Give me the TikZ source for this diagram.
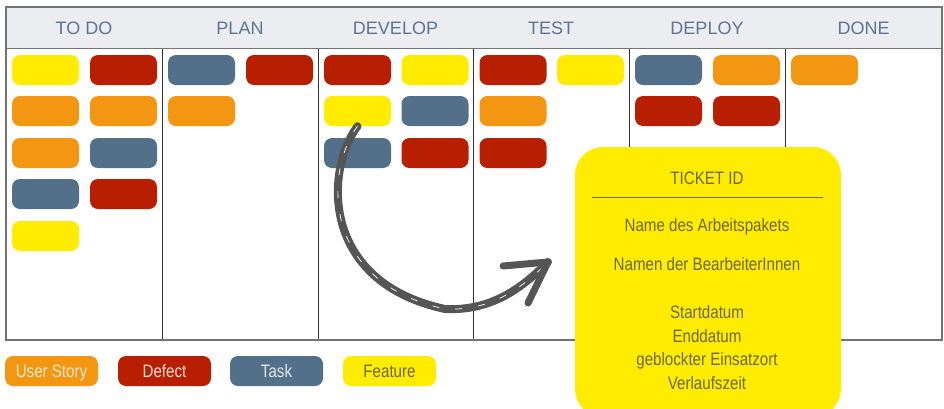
\documentclass[tikz,border=0pt]{standalone}
\usepackage{fontspec}
\setmainfont{Liberation Sans}
\newfontfamily\narrowfont[FakeStretch=0.84]{Liberation Sans}
\usetikzlibrary{positioning}
\definecolor{story}{HTML}{F39612}
\definecolor{defect}{HTML}{B81E00}
\definecolor{task}{HTML}{527089}
\definecolor{feature}{HTML}{FFEC00}
\definecolor{headbg}{HTML}{ECEDF1}
\definecolor{headtext}{HTML}{5B7592}
\definecolor{tickettext}{HTML}{6B6840}
\definecolor{arrowgray}{HTML}{555555}
\tikzset{
  card/.style={rounded corners=8pt, minimum width=67pt, minimum height=30pt, inner sep=0pt},
  legend/.style={card, minimum width=93pt, text height=13pt, text depth=0pt, font=\narrowfont\fontsize{18}{20}\selectfont},
  colhead/.style={font=\fontsize{18}{20}\selectfont, text=headtext},
  tickettxt/.style={font=\narrowfont\fontsize{18}{23.7}\selectfont, text=tickettext, align=center, inner sep=0pt},
}

\begin{document}
\begin{tikzpicture}[x=1pt, y=-1pt]
        \useasboundingbox (0,0) rectangle (944,408);
        \clip (0,0) rectangle (944,408);
        % board
        \fill[headbg] (6,7) rectangle (942,48);
        \foreach \x in {162,318,473,629,785}
            \draw[black!80, line width=1pt] (\x,48) -- (\x,340);
        \draw[black!55, line width=1.5pt] (6,7) rectangle (942,340);
        \draw[black!55, line width=1pt] (6,48) -- (942,48);
        \foreach \t/\x/\n in {TO DO/84/todo, PLAN/240/plan, DEVELOP/395.5/develop, TEST/551/test, DEPLOY/707/deploy, DONE/863.5/done}
            \node[colhead] (\n) at (\x,28) {\t};
        % cards
        \foreach \c/\x/\y/\n in {feature/45.5/70/t11, defect/123.5/70/t12, story/45.5/111/t21, story/123.5/111/t22,
                story/45.5/153/t31, task/123.5/153/t32, task/45.5/194/t41, defect/123.5/194/t42, feature/45.5/236/t51,
                task/201.5/70/p11, defect/279.5/70/p12, story/201.5/111/p21,
                defect/357.5/70/d11, feature/435/70/d12, feature/357.5/111/d21, task/435/111/d22, task/357.5/153/d31, defect/435/153/d32,
                defect/513/70/e11, feature/590.5/70/e12, story/513/111/e21, defect/513/153/e31,
                task/668.5/70/y11, story/746.5/70/y12, defect/668.5/111/y21, defect/746.5/111/y22,
                story/824.5/70/n11}
            \node[card, fill=\c] (\n) at (\x,\y) {};
        % legend
        \node[legend, fill=story, text=white!80!story] (lstory) at (51.5,371) {User Story};
        \node[legend, fill=defect, text=white!85!defect] (ldefect) at (164.5,371) {Defect};
        \node[legend, fill=task, text=white!85!task] (ltask) at (276.5,371) {Task};
        \node[legend, fill=feature, text=tickettext] (lfeature) at (389.5,371) {Feature};
        % arrow
        \coordinate (tip) at (548,262);
        \coordinate (barbA) at (503,266);
        \coordinate (barbB) at (528,303);
        \draw[arrowgray, line width=8pt, line cap=round] (d21.south) .. controls (325,170) and (320,282) .. (445,309) .. controls (490,311) and (520,290) .. (tip);
        \draw[white, line width=0.7pt, dash pattern=on 7pt off 16pt] (d21.south) .. controls (325,170) and (320,282) .. (445,309) .. controls (490,311) and (520,290) .. (tip);
        \draw[arrowgray, line width=7pt, line cap=round, line join=round] (barbA) -- (tip) -- (barbB);
        % ticket
        \node[fill=feature, rounded corners=28pt, minimum width=266pt, minimum height=270pt] (ticket) at (708,282) {};
        \node[tickettxt] (ticketid) at (707,178) {TICKET ID};
        \draw[tickettext, line width=0.8pt] (592,197) -- (823,197);
        \node[tickettxt] (pkg) at (707,227) {Name des Arbeitspakets};
        \node[tickettxt] (names) at (707,264) {Namen der BearbeiterInnen};
        \node[tickettxt] (dates) at (707,347.5) {Startdatum\\Enddatum\\geblockter Einsatzort\\Verlaufszeit};
\end{tikzpicture}
\end{document}
